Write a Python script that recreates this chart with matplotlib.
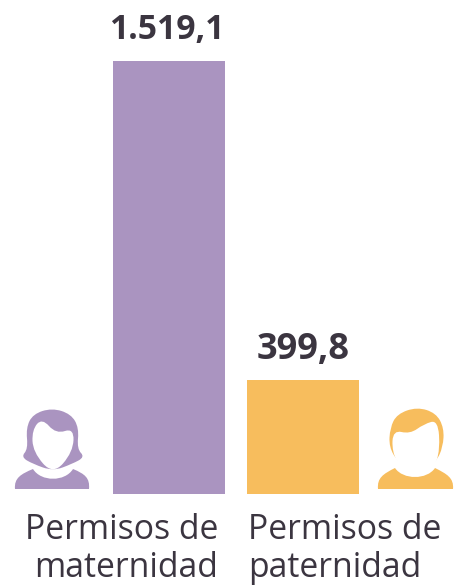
import matplotlib
matplotlib.use('Agg')
import matplotlib.pyplot as plt
from matplotlib.patches import PathPatch
from matplotlib.path import Path

categories = ['Permisos de\nmaternidad', 'Permisos de\npaternidad']
values = [1519.1, 399.8]
value_labels = ['1.519,1', '399,8']
colors = ['#AA94C0', '#F7BD5D']
text_color = '#3B3540'

W, H = 455, 587
plt.rcParams['font.family'] = ['Open Sans', 'DejaVu Sans']

fig = plt.figure(figsize=(W / 100, H / 100), dpi=100)
ax = fig.add_axes([0, 0, 1, 1])
ax.set_xlim(0, W)
# 1519,1 -> 433 px de alto
scale = 433 / 1519.1
ax.set_ylim(-(H - 494) / scale, 494 / scale)
ax.axis('off')

xs = [169, 303]
ax.bar(xs, values, width=112, color=colors)

ax.text(167, values[0] + 14 / scale, value_labels[0], ha='center', va='bottom', fontsize=24.3,
        fontweight='bold', color=text_color)
ax.text(303, values[1] + 12 / scale, value_labels[1], ha='center', va='bottom', fontsize=26,
        fontweight='bold', color=text_color)

ax.text(218, -55 / scale, categories[0], ha='right', va='center', fontsize=24.3,
        color=text_color, linespacing=1.15)
ax.text(248, -55 / scale, categories[1], ha='left', va='center', fontsize=24.3,
        color=text_color, linespacing=1.15)

# iconos: capa aparte en pixeles de la imagen
icons = fig.add_axes([0, 0, 1, 1])
icons.set_xlim(0, W)
icons.set_ylim(H, 0)
icons.axis('off')
icons.patch.set_alpha(0)


def blob(points, color):
    # contorno cerrado suave por los puntos de control
    n = len(points)
    mid = lambda a, b: ((a[0] + b[0]) / 2, (a[1] + b[1]) / 2)
    verts = [mid(points[-1], points[0])]
    codes = [Path.MOVETO]
    for i in range(n):
        verts += [points[i], mid(points[i], points[(i + 1) % n])]
        codes += [Path.CURVE3, Path.CURVE3]
    icons.add_patch(PathPatch(Path(verts, codes), facecolor=color, lw=0))


def shoulders(x0, x1, top_l, top_r, neck, color):
    verts = [(x0, 489), (x0 - 1, 478), (top_l[0] - 12, 474), top_l,
             (top_l[0] + 8, neck), (top_r[0] - 8, neck), top_r,
             (top_r[0] + 12, 474), (x1 + 1, 478), (x1, 489), (x0, 489)]
    codes = [Path.MOVETO, Path.CURVE4, Path.CURVE4, Path.CURVE4,
             Path.CURVE4, Path.CURVE4, Path.CURVE4,
             Path.CURVE4, Path.CURVE4, Path.CURVE4, Path.CLOSEPOLY]
    icons.add_patch(PathPatch(Path(verts, codes), facecolor=color, lw=0))


# mujer
shoulders(15, 89, (33, 469), (73, 469), 482, colors[0])
blob([(21, 457), (28, 449), (26, 428), (33, 414), (52, 408), (71, 414), (79, 428),
      (77, 449), (85, 457), (72, 464), (53, 471), (33, 464)], colors[0])
blob([(42, 418), (32, 430), (33, 452), (53, 475), (73, 452), (74, 428), (56, 434)], 'white')

# hombre
shoulders(378, 453, (395, 468), (435, 468), 480, colors[1])
blob([(389, 447), (390, 428), (397, 414), (417, 407), (436, 413), (444, 428), (443, 447),
      (436, 462), (418, 476), (398, 462)], colors[1])
blob([(393, 430), (392, 452), (401, 468), (418, 476), (434, 468), (440, 450), (438, 420),
      (424, 424), (410, 434)], 'white')

fig.savefig('out.png', dpi=100)
